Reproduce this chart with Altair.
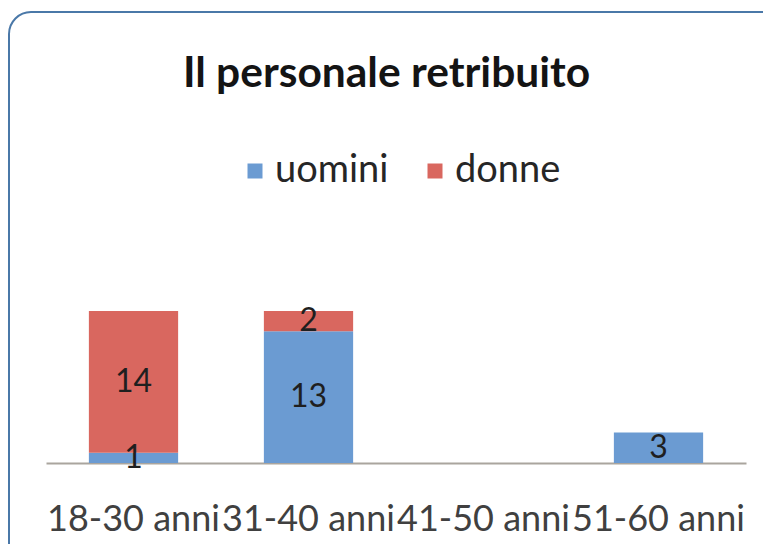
import altair as alt
import pandas as pd

# ---- data ----
categories = ["18-30 anni", "31-40 anni", "41-50 anni", "51-60 anni"]
series = ["uomini", "donne"]
uomini = [1, 13, None, 3]
donne = [14, 2, None, None]
colors = ["#6b9bd2", "#d9675f"]
title_text = "Il personale retribuito"

rows = []
for i, cat in enumerate(categories):
    for s_idx, (name, vals) in enumerate(zip(series, [uomini, donne])):
        v = vals[i]
        if v is not None:
            rows.append({"fascia": cat, "genere": name, "valore": v, "ordine": s_idx})
df = pd.DataFrame(rows)

FONT = "Lato"

x_scale = alt.Scale(domain=categories, range=[37, 737], paddingInner=0.49, paddingOuter=0.245)
y_scale = alt.Scale(domain=[0, 15], range=[451, 299], nice=False, zero=False)

x_axis = alt.Axis(
    title=None, labelAngle=0, labelFont=FONT, labelFontSize=36, labelColor="#404040",
    ticks=False, domainColor="#aaa59e", domainWidth=2, labelPadding=39, offset=-104,
    labelOverlap=False, labelLimit=400, labelFlush=False,
)

base = alt.Chart(df).transform_stack(
    stack="valore", groupby=["fascia"], as_=["y0", "y1"],
    sort=[alt.SortField("ordine", order="ascending")],
).transform_calculate(mid="(datum.y0 + datum.y1) / 2")

bars = base.mark_bar().encode(
    x=alt.X("fascia:N", scale=x_scale, axis=x_axis),
    y=alt.Y("y0:Q", scale=y_scale, axis=None),
    y2="y1:Q",
    color=alt.Color(
        "genere:N",
        scale=alt.Scale(domain=series, range=colors),
        legend=alt.Legend(
            orient="none", legendX=227, legendY=140, direction="horizontal", title=None,
            symbolType="square", symbolSize=225, symbolStrokeWidth=0, symbolOpacity=1,
            labelFont=FONT, labelFontSize=38, labelColor="#262626", labelOffset=1,
            columnPadding=27, padding=0,
        ),
    ),
)

labels = base.mark_text(font=FONT, fontSize=32, color="#1f1f1f", baseline="middle").encode(
    x=alt.X("fascia:N", scale=x_scale, axis=x_axis),
    y=alt.Y("mid:Q", scale=y_scale, axis=None),
    text="valore:Q",
)

chart = alt.layer(bars, labels).properties(
    width=779,
    height=555,
    autosize="none",
    padding={"left": 1, "top": 4, "right": -25, "bottom": -23},
    title=alt.TitleParams(
        title_text, font=FONT, fontSize=42.5, fontWeight="bold", color="#141414",
        anchor="middle", baseline="alphabetic", offset=-76, dx=-12, dy=41,
    ),
).configure_view(
    stroke="#4a78a8", strokeWidth=2, cornerRadius=22, fill="white"
)

chart.save("out.html", embed_options={"renderer": "svg", "actions": False})
